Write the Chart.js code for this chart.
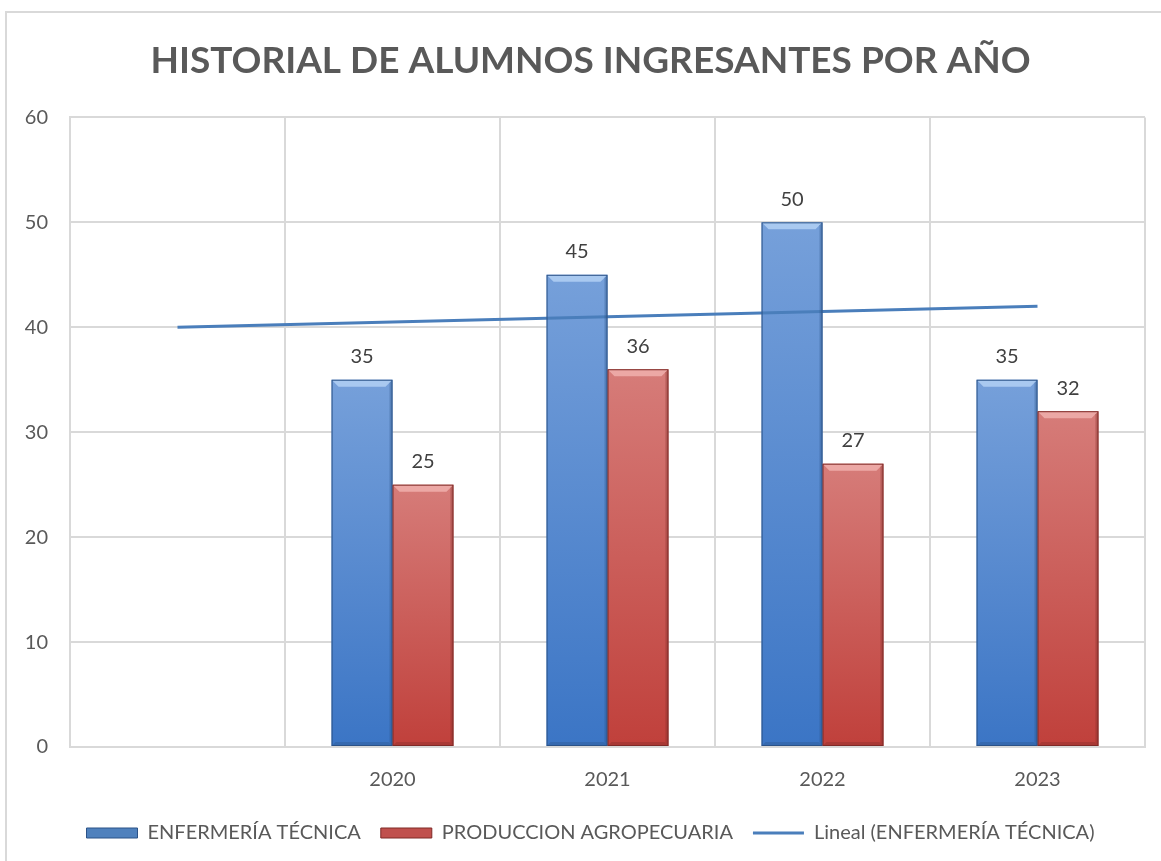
<!DOCTYPE html>
<html>
<head>
<meta charset="utf-8">
<script src="https://cdn.jsdelivr.net/npm/chart.js@4/dist/chart.umd.min.js"></script>
<style>
    html, body { margin: 0; padding: 0; background: #fff; }
    #wrap { width: 1161px; height: 861px; position: relative; }
</style>
</head>
<body>
<div id="wrap"><canvas id="chart" width="1161" height="861"></canvas></div>
<script>
const categories = ['', '2020', '2021', '2022', '2023']
const enfermeria = [null, 35, 45, 50, 35]
const produccion = [null, 25, 36, 27, 32]
const tendencia = [40, 40.5, 41, 41.5, 42]
const yTicks = [0, 10, 20, 30, 40, 50, 60]

const FONT = 'Lato, "Open Sans", sans-serif'
const GRAY = '#595959'

const blue = { top: '#76a0da', bottom: '#3b75c5', light: '#b3d0f3', dark: '#2b5287', legend: '#4f81bd' }
const red = { top: '#d67c79', bottom: '#c0403b', light: '#f0b0ad', dark: '#7f2a27', legend: '#c0504d' }

function barGradient(colors) {
    return function (context) {
        const chart = context.chart
        if (!chart.chartArea || context.raw == null) return colors.bottom
        const y = chart.scales.y
        const top = y.getPixelForValue(context.raw)
        const bottom = y.getPixelForValue(0)
        const g = chart.ctx.createLinearGradient(0, top, 0, bottom)
        g.addColorStop(0, colors.top)
        g.addColorStop(1, colors.bottom)
        return g
    }
}

// outer frame of the chart, and centre title/legend on the frame
const framePlugin = {
    id: 'frame',
    afterLayout(chart) {
        if (chart.titleBlock) chart.titleBlock.left = 36
        if (chart.legend) chart.legend.left = 36
    },
    beforeDraw(chart) {
        const ctx = chart.ctx
        ctx.save()
        ctx.strokeStyle = '#d9d9d9'
        ctx.lineWidth = 2
        ctx.strokeRect(6, 12, 1200, 900)
        ctx.restore()
    }
}

// bevel look on bars + value labels
const bevelPlugin = {
    id: 'bevel',
    afterDatasetsDraw(chart) {
        const ctx = chart.ctx
        const sets = [blue, red]
        sets.forEach((colors, di) => {
            const meta = chart.getDatasetMeta(di)
            meta.data.forEach((bar, i) => {
                const v = chart.data.datasets[di].data[i]
                if (v == null) return
                const left = bar.x - bar.width / 2
                const right = bar.x + bar.width / 2
                const top = bar.y
                const bottom = bar.base
                const b = 7
                ctx.save()
                // top highlight
                ctx.fillStyle = colors.light
                ctx.globalAlpha = 0.85
                ctx.beginPath()
                ctx.moveTo(left, top)
                ctx.lineTo(right, top)
                ctx.lineTo(right - b, top + b)
                ctx.lineTo(left + b, top + b)
                ctx.closePath()
                ctx.fill()
                // right shade
                ctx.fillStyle = colors.dark
                ctx.globalAlpha = 0.35
                ctx.beginPath()
                ctx.moveTo(right, top)
                ctx.lineTo(right, bottom)
                ctx.lineTo(right - 3, bottom - 3)
                ctx.lineTo(right - 3, top + 3)
                ctx.closePath()
                ctx.fill()
                // bottom shade
                ctx.beginPath()
                ctx.moveTo(left, bottom)
                ctx.lineTo(right, bottom)
                ctx.lineTo(right - 4, bottom - 4)
                ctx.lineTo(left + 4, bottom - 4)
                ctx.closePath()
                ctx.fill()
                ctx.globalAlpha = 1
                ctx.strokeStyle = colors.dark
                ctx.lineWidth = 1
                ctx.strokeRect(left + 0.5, top + 0.5, bar.width - 1, bottom - top - 1)
                // value label
                ctx.fillStyle = '#404040'
                ctx.font = '20px ' + FONT
                ctx.textAlign = 'center'
                ctx.textBaseline = 'bottom'
                ctx.fillText(String(v), bar.x, top - 13)
                ctx.restore()
            })
        })
    }
}

new Chart(document.getElementById('chart'), {
    type: 'bar',
    data: {
        labels: categories,
        datasets: [
            {
                label: 'ENFERMERÍA TÉCNICA',
                data: enfermeria,
                backgroundColor: barGradient(blue),
                pointStyle: 'rect',
                order: 1,
            },
            {
                label: 'PRODUCCION AGROPECUARIA',
                data: produccion,
                backgroundColor: barGradient(red),
                pointStyle: 'rect',
                order: 1,
            },
            {
                type: 'line',
                label: 'Lineal (ENFERMERÍA TÉCNICA)',
                data: tendencia,
                borderColor: '#4a7ebb',
                backgroundColor: '#4a7ebb',
                borderWidth: 3,
                pointRadius: 0,
                pointStyle: 'line',
                fill: false,
                order: 0,
            }
        ]
    },
    options: {
        responsive: false,
        animation: false,
        categoryPercentage: 0.567,
        barPercentage: 1,
        layout: {
            padding: { left: 0, right: 16, top: 0, bottom: 8 }
        },
        plugins: {
            title: {
                display: true,
                text: 'HISTORIAL DE ALUMNOS INGRESANTES POR AÑO',
                color: GRAY,
                font: { family: FONT, size: 37, weight: 'bold' },
                padding: { top: 39, bottom: 34 },
            },
            legend: {
                position: 'bottom',
                labels: {
                    usePointStyle: true,
                    pointStyleWidth: 51,
                    boxHeight: 10,
                    boxWidth: 51,
                    padding: 20,
                    color: GRAY,
                    font: { family: FONT, size: 20 },
                    sort: (a, b) => a.datasetIndex - b.datasetIndex,
                    generateLabels: (chart) => {
                        const legendColors = [blue.legend, red.legend, '#4a7ebb']
                        return chart.data.datasets.map((ds, i) => ({
                            text: ds.label,
                            fillStyle: legendColors[i],
                            strokeStyle: i < 2 ? [blue.dark, red.dark][i] : '#4a7ebb',
                            lineWidth: i < 2 ? 1 : 3,
                            pointStyle: ds.pointStyle,
                            fontColor: GRAY,
                            datasetIndex: i,
                            hidden: false,
                        }))
                    }
                }
            },
            tooltip: { enabled: false }
        },
        scales: {
            x: {
                grid: { color: '#d9d9d9', lineWidth: 2, drawTicks: false },
                border: { color: '#d9d9d9', width: 2 },
                ticks: {
                    color: GRAY,
                    font: { family: FONT, size: 20 },
                    padding: 21,
                    maxRotation: 0,
                },
                afterFit: (scale) => { scale.height = 56 }
            },
            y: {
                min: 0,
                max: 60,
                afterBuildTicks: (scale) => { scale.ticks = yTicks.map(v => ({ value: v })) },
                grid: { color: '#d9d9d9', lineWidth: 2, drawTicks: false },
                border: { color: '#d9d9d9', width: 2 },
                ticks: {
                    color: GRAY,
                    font: { family: FONT, size: 20 },
                    padding: 22,
                },
                afterFit: (scale) => { scale.width = 70 }
            }
        }
    },
    plugins: [framePlugin, bevelPlugin]
})
</script>
</body>
</html>
